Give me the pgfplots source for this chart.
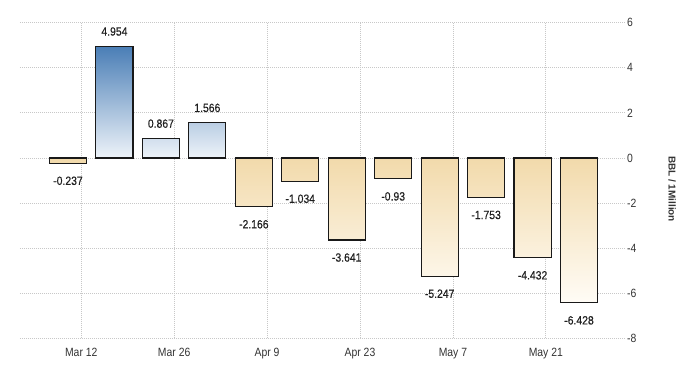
\documentclass[border=0pt]{standalone}
\usepackage{fontspec}
\setmainfont{Liberation Sans}[FakeStretch=0.87]
\newfontfamily\labelfont{Liberation Sans}
\newfontfamily\valfont{Liberation Sans}[FakeStretch=0.87, FakeBold=0.4]
\usepackage{pgfplots}
\pgfplotsset{compat=1.18}
\definecolor{bluetop}{HTML}{4A7EB6}
\definecolor{bluebot}{HTML}{EEF3F9}
\definecolor{orntop}{HTML}{F2DAAB}
\definecolor{ornbot}{HTML}{FFFCF6}
\definecolor{gridc}{HTML}{C8C8C8}
\definecolor{txt}{HTML}{333333}
\begin{document}
\begin{tikzpicture}
\useasboundingbox (-20bp,-36.7bp) rectangle (680bp,338.3bp);
\begin{axis}[
  scale only axis, width=605bp, height=315.6bp,
  xmin=-1.033, xmax=11.99, ymin=-8, ymax=6,
  ybar, bar width=0.8,
  axis line style={draw=none},
  major tick length=0pt,
  ytick={-8,-6,...,6},
  xtick={0.2857,2.2857,4.2857,6.2857,8.2857,10.2857},
  xticklabels={Mar 12,Mar 26,Apr 9,Apr 23,May 7,May 21},
  yticklabel pos=right,
  grid=major,
  major grid style={gridc, dash pattern=on 1bp off 1bp, line width=0.8bp},
  ticklabel style={font=\fontsize{12}{14}\selectfont, text=txt},
  xticklabel style={anchor=north, inner sep=0pt, yshift=-9.4bp},
  yticklabel style={anchor=west, inner sep=0pt, xshift=2bp},
  /pgf/number format/fixed,
  /pgf/number format/precision=3,
  /pgf/number format/assume math mode=true,
  ylabel={BBL / 1Million},
  every axis y label/.style={at={(axis description cs:1.0777,0.473)}, anchor=center, rotate=-90, font=\labelfont\bfseries\fontsize{10}{12}\selectfont, text=txt},
  nodes near coords,
  nodes near coords style={font=\valfont\fontsize{12}{14}\selectfont, text=black!88, inner sep=0pt},
]
\addplot[draw=black!90, line width=1.1bp, top color=bluetop, bottom color=bluebot, bar shift=0pt,
  nodes near coords style={anchor=south, yshift=10bp}]
  coordinates {(1,4.954) (2,0.867) (3,1.566)};
\addplot[draw=black!90, line width=1.1bp, top color=orntop, bottom color=ornbot, bar shift=0pt,
  nodes near coords style={anchor=north, yshift=-12.7bp}]
  coordinates {(0,-0.237) (4,-2.166) (5,-1.034) (6,-3.641) (7,-0.93) (8,-5.247) (9,-1.753) (10,-4.432) (11,-6.428)};
\end{axis}
\end{tikzpicture}
\end{document}
